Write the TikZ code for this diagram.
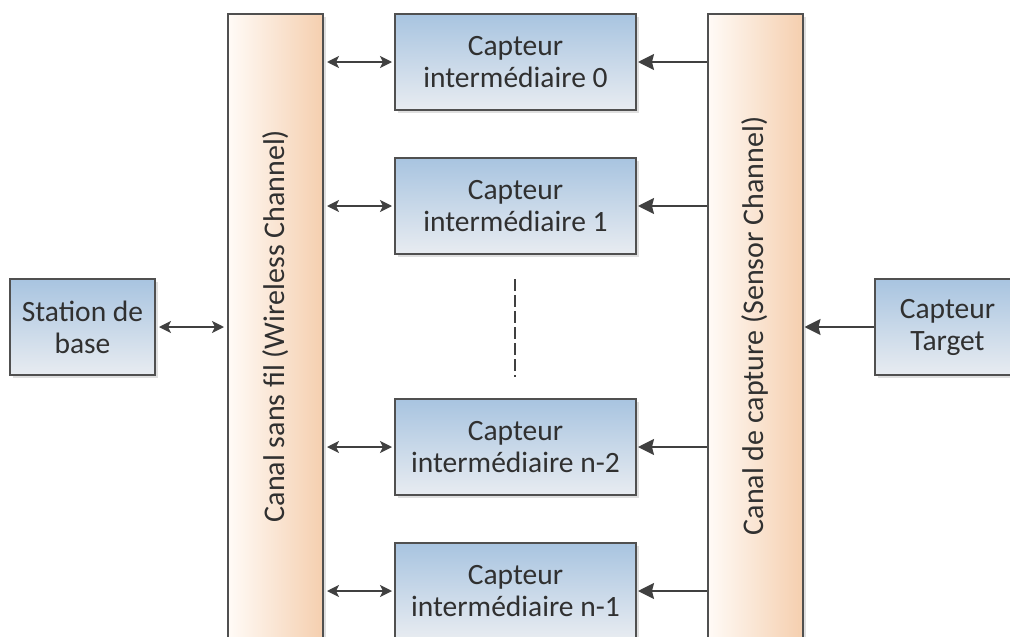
\documentclass[tikz,border=0pt]{standalone}
\usepackage{fontspec}
\setmainfont{Carlito}
\usetikzlibrary{arrows.meta,shadows}
\definecolor{boxtop}{HTML}{A8C4E0}
\definecolor{boxbot}{HTML}{E8ECF1}
\definecolor{chl}{HTML}{FFFBF7}
\definecolor{chr}{HTML}{F5CFAF}
\definecolor{edge}{HTML}{505050}
\definecolor{arr}{HTML}{404040}
\definecolor{txt}{HTML}{303030}
\tikzset{
  boxnode/.style={draw=edge, line width=2pt, top color=boxtop, bottom color=boxbot,
    minimum width=241pt, minimum height=96pt, align=center, text=txt, inner sep=0pt,
    font=\fontsize{29.5}{32}\selectfont,
    drop shadow={shadow xshift=3pt, shadow yshift=-3pt, opacity=0.25, fill=gray}},
  sidebox/.style={boxnode, minimum width=145pt},
  chan/.style={draw=edge, line width=2pt, left color=chl, right color=chr,
    minimum width=95pt, minimum height=646pt, inner sep=0pt,
    drop shadow={shadow xshift=3pt, shadow yshift=-3pt, opacity=0.25, fill=gray}},
  chantext/.style={rotate=90, text=txt, font=\fontsize{30}{34}\selectfont},
  dbl/.style={draw=arr, line width=1.6pt, {Stealth[length=12pt,width=12pt,inset=3pt]}-{Stealth[length=12pt,width=12pt,inset=3pt]}},
  sgl/.style={draw=arr, line width=1.6pt, -{Stealth[length=16pt,width=16pt,inset=2pt]}}
}
\begin{document}
\begin{tikzpicture}[x=1pt,y=-1pt]
\useasboundingbox (0,0) rectangle (1010,637);
\clip (0,0) rectangle (1010,637);
\fill[white] (0,0) rectangle (1010,637);
% channels
\node[chan] (lch) at (275.5,337) {};
\node[chan] (rch) at (755,337) {};
\node[chantext] (lcht) at (275.5,326) {Canal sans fil (Wireless Channel)};
\node[chantext] (rcht) at (755,326) {Canal de capture (Sensor Channel)};
% boxes
\node[sidebox] (st) at (82.5,327) {Station de\\base};
\node[sidebox] (tg) at (947.5,327) {Capteur\\Target};
\node[boxnode] (c0) at (515.5,62) {Capteur\\intermédiaire 0};
\node[boxnode] (c1) at (515.5,206) {Capteur\\intermédiaire 1};
\node[boxnode] (c2) at (515.5,447) {Capteur\\intermédiaire n-2};
\node[boxnode] (c3) at (515.5,591) {Capteur\\intermédiaire n-1};
% dots
\coordinate (dtop) at (515,279);
\coordinate (dbot) at (515,377);
\draw[arr, line width=2.2pt, dash pattern=on 12pt off 4pt] (dtop) -- (dbot);
% arrows
\draw[dbl, shorten <=3pt, shorten >=3pt] (st.east) -- (lch.west |- st.east);
\foreach \c in {c0,c1,c2,c3}{
  \draw[dbl, shorten <=3pt, shorten >=2pt] (lch.east |- \c.west) -- (\c.west);
  \draw[sgl, shorten >=1pt] (rch.west |- \c.east) -- (\c.east);
}
\draw[sgl, shorten >=1pt] (tg.west) -- (rch.east |- tg.west);
\end{tikzpicture}
\end{document}
